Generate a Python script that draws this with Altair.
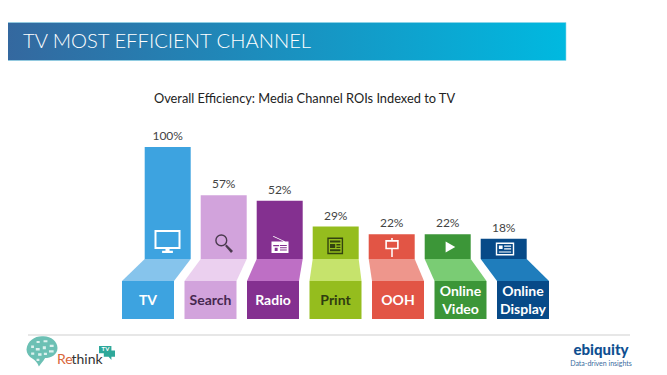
import altair as alt
import pandas as pd

channels = ["TV", "Search", "Radio", "Print", "OOH", "Online\nVideo", "Online\nDisplay"]
values = [100, 57, 52, 29, 22, 22, 18]
value_labels = ["100%", "57%", "52%", "29%", "22%", "22%", "18%"]
bar_colors = ["#3DA3E0", "#D2A3DC", "#843090", "#95BD1E", "#E25545", "#3C9638", "#074A88"]
flap_colors = ["#86C4EC", "#EBD0EF", "#BE6FC5", "#C6E36C", "#EE968C", "#7ACC74", "#1F7DBC"]
label_colors = ["#FFFFFF", "#46284F", "#FFFFFF", "#2F3B10", "#FFFFFF", "#FFFFFF", "#FFFFFF"]

FONT = "Lato"
W, H = 651, 359
OFF = 8                  # page margin
PX_PER_UNIT = 1.12
BASE_Y = 259             # page y of value 0


def unit(page_y):
    return (BASE_Y - page_y) / PX_PER_UNIT


xs = alt.Scale(domain=[0, W], range=[0, W], nice=False, zero=False)
ys = alt.Scale(domain=[unit(OFF + H), unit(OFF)], range=[H, 0], nice=False, zero=False)
X = alt.X("x:Q", scale=xs, axis=None)
X2 = alt.X2("x2:Q")
Y = alt.Y("y:Q", scale=ys, axis=None)
Y2 = alt.Y2("y2:Q")

bar_w, tab_w = 46, 52
bars, flaps, tabs, texts = [], [], [], []
for i, ch in enumerate(channels):
    bl = 144.7 - OFF + 56 * i
    tl = 122 - OFF + 62.5 * i
    bars.append(dict(x=bl, x2=bl + bar_w, y=values[i], y2=0, c=bar_colors[i],
                     mid=bl + bar_w / 2, label=value_labels[i]))
    tabs.append(dict(x=tl, x2=tl + tab_w, y=unit(281), y2=unit(319), c=bar_colors[i]))
    flaps.append(dict(x=bl, x2=bl + bar_w, y=0, c=flap_colors[i], ch=ch))
    flaps.append(dict(x=tl, x2=tl + tab_w, y=unit(281), c=flap_colors[i], ch=ch))
    first_line_y = 291.5 if "\n" in ch else 300.5
    texts.append(dict(x=tl + tab_w / 2, y=unit(first_line_y), t=ch, c=label_colors[i]))

bar_df, flap_df, tab_df, text_df = map(pd.DataFrame, (bars, flaps, tabs, texts))
C = alt.Color("c:N", scale=None)

bar_layer = alt.Chart(bar_df).mark_rect().encode(x=X, x2=X2, y=Y, y2=Y2, color=C)
tab_layer = alt.Chart(tab_df).mark_rect().encode(x=X, x2=X2, y=Y, y2=Y2, color=C)
flap_layer = alt.Chart(flap_df).mark_area(orient="horizontal").encode(
    x=X, x2=X2, y=Y, color=C, detail="ch:N")
value_layer = alt.Chart(bar_df).mark_text(
    font=FONT, fontSize=12, color="#444444", baseline="bottom", dy=-4
).encode(x=alt.X("mid:Q", scale=xs, axis=None), y=Y, text="label:N")
label_layer = alt.Chart(text_df).mark_text(
    font=FONT, fontSize=14, fontWeight="bold", lineBreak="\n", lineHeight=18, baseline="middle"
).encode(x=X, y=Y, text="t:N", color=C)


def icon(px, py, path, side, fill=None, stroke=None, sw=1.5):
    kw = dict(shape=path, size=side * side, filled=fill is not None, opacity=1)
    if fill is not None:
        kw["fill"] = fill
        kw["strokeWidth"] = 0
    if stroke is not None:
        kw["stroke"] = stroke
        kw["strokeWidth"] = sw
    df = pd.DataFrame([dict(x=px - OFF, y=unit(py))])
    return alt.Chart(df).mark_point(**kw).encode(x=X, y=Y)


W_ = "#FFFFFF"
DK = "#4A3A4E"
icons = [
    # TV
    icon(167.5, 241.5, "M-1,-0.88 H1 V0.55 H-1 Z", 24, stroke=W_, sw=2),
    icon(167.5, 241.5, "M-0.17,0.55 H0.17 V0.78 H0.45 V0.95 H-0.45 V0.78 H-0.17 Z", 24, fill=W_),
    # Search
    icon(224, 244, "M0.3,-0.4 A0.6,0.6 0 1 1 -0.9,-0.4 A0.6,0.6 0 1 1 0.3,-0.4 Z", 18, stroke=DK, sw=1.4),
    icon(224, 244, "M0.12,0.22 L0.28,0.06 L1,0.78 L0.78,1 Z", 18, fill=DK),
    # Radio
    icon(280, 244.5,
         "M-1,-0.35 L0.42,-0.35 L-0.85,-0.95 L-0.75,-1 L0.62,-0.35 H1 V1 H-1 Z", 17, fill=W_),
    icon(280, 244.5, "M0,0.05 H0.8 V0.17 H0 Z M0,0.32 H0.8 V0.44 H0 Z M0,0.6 H0.8 V0.72 H0 Z "
         "M-0.8,0.05 H-0.1 V0.2 H-0.8 Z M-0.62,0.38 H-0.28 V0.75 H-0.62 Z", 17, fill="#843090"),
    # Print
    icon(336, 245.5, "M-1,-0.9 H0.8 V1 H-1 Z", 16, stroke="#33430F", sw=1.4),
    icon(336, 245.5, "M-0.75,-0.62 H0.55 V-0.38 H-0.75 Z M-0.75,-0.18 H-0.1 V0.3 H-0.75 Z "
         "M0.05,-0.18 H0.55 V0 H0.05 Z M0.05,0.15 H0.55 V0.3 H0.05 Z "
         "M-0.75,0.48 H0.55 V0.72 H-0.75 Z", 16, fill="#33430F"),
    # OOH
    icon(392, 247.5, "M-0.62,-0.7 H0.62 V0.1 H-0.62 Z", 19, stroke=W_, sw=1.6),
    icon(392, 247.5, "M-0.08,-1 H0.08 V-0.7 H-0.08 Z M-0.08,0.1 H0.08 V1 H-0.08 Z", 19, fill=W_),
    # Video
    icon(450, 247, "M-0.8,-1 L0.95,0 L-0.8,1 Z", 11, fill=W_),
    # Display
    icon(505, 249, "M-1,-0.68 H1 V0.68 H-1 Z", 17, stroke=W_, sw=1.4),
    icon(505, 249, "M-0.72,-0.4 H-0.28 V0 H-0.72 Z M-0.1,-0.4 H0.72 V-0.26 H-0.1 Z "
         "M-0.1,-0.08 H0.72 V0.06 H-0.1 Z M-0.72,0.28 H0.72 V0.42 H-0.72 Z", 17, fill=W_),
]

one = pd.DataFrame([{"a": 1}])
header = alt.Chart(one).mark_rect(
    color=alt.Gradient(
        gradient="linear", x1=0, x2=1, y1=0, y2=0,
        stops=[alt.GradientStop(color="#34689F", offset=0),
               alt.GradientStop(color="#00B9E0", offset=1)]),
    stroke="#8FD6EA", strokeWidth=0.6,
).encode(x=alt.value(-1), x2=alt.value(558), y=alt.value(14.5), y2=alt.value(52.5))


def note(text, px, py, size, color="#222222", weight="normal", align="left", font=FONT):
    return alt.Chart(one).mark_text(
        text=text, font=font, fontSize=size, color=color, fontWeight=weight,
        align=align, baseline="alphabetic",
    ).encode(x=alt.value(px - OFF), y=alt.value(py - OFF))


title_text = note("TV MOST EFFICIENT CHANNEL", 23, 48, 20.2, color="#FFFFFF", weight=300)
subtitle = note("Overall Efficiency: Media Channel ROIs Indexed to TV", 304.5, 103, 12.8, align="center")

footer_rule = alt.Chart(one).mark_rule(color="#CFCFCF", strokeWidth=1).encode(
    x=alt.value(28 - OFF), x2=alt.value(630 - OFF), y=alt.value(335 - OFF))

brain = icon(42, 351, "M-1,-0.1 C-0.95,-0.7 -0.4,-1 0.1,-0.95 C0.6,-0.95 1,-0.6 1,-0.2 "
             "C1,0.25 0.55,0.45 0.2,0.45 C0.05,0.7 -0.1,0.85 -0.2,1 C-0.3,0.75 -0.45,0.6 -0.6,0.5 "
             "C-0.85,0.35 -1,0.15 -1,-0.1 Z", 31, fill="#6CC0B4")
flecks = icon(42, 351, "M-0.7,-0.35 h0.18 v0.16 h-0.18 Z M-0.35,-0.65 h0.2 v0.14 h-0.2 Z "
              "M0.1,-0.7 h0.25 v0.14 h-0.25 Z M0.5,-0.4 h0.25 v0.14 h-0.25 Z "
              "M-0.4,-0.2 h0.25 v0.16 h-0.25 Z M0.05,-0.3 h0.2 v0.18 h-0.2 Z "
              "M0.45,-0.05 h0.3 v0.14 h-0.3 Z M-0.7,0.1 h0.2 v0.14 h-0.2 Z "
              "M-0.25,0.15 h0.22 v0.16 h-0.22 Z M0.12,0.12 h0.2 v0.14 h-0.2 Z "
              "M-0.35,0.5 h0.18 v0.14 h-0.18 Z", 31, fill="#DDF1EE")
bubble = icon(107, 352, "M-1,-0.75 H0.55 V-0.2 H1 V0.6 H0.55 L0.55,1 L0.2,0.6 H-0.4 V0.15 H-1 Z",
              16, fill="#2EA89A")

logo = [
    brain, flecks, bubble,
    note("Re", 57, 363.5, 14, color="#D9663A"),
    note("think", 71.5, 363.5, 14, color="#333333"),
    note("TV", 105.5, 350.5, 6, color="#FFFFFF", weight="bold", align="center"),
    note("ebiquity", 601, 355, 15, color="#0F4F91", weight=900, align="center"),
    note("Data-driven insights", 601, 365.5, 7, color="#3A6C9E", align="center"),
]

chart = alt.layer(
    header, title_text, subtitle,
    bar_layer, flap_layer, tab_layer, value_layer, label_layer,
    *icons, footer_rule, *logo,
).properties(
    width=W, height=H, padding=0,
    autosize=alt.AutoSizeParams(type="none"),
    background="#FFFFFF",
).configure_view(stroke=None)

chart.save("out.html", embed_options={"renderer": "svg", "actions": False})
